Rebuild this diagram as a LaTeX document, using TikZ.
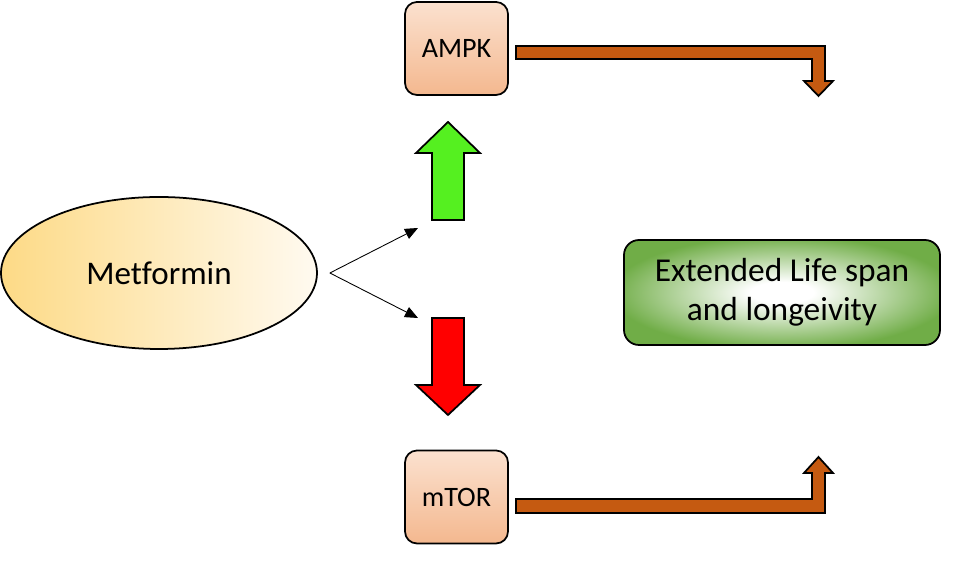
\documentclass[tikz,border=0pt]{standalone}
\usepackage{fontspec}
\setmainfont{Carlito}[Ligatures=NoCommon]
\usetikzlibrary{arrows.meta,positioning,shapes.geometric}
\definecolor{metL}{HTML}{FDDA86}
\definecolor{metR}{HTML}{FFFAF0}
\definecolor{boxT}{HTML}{FBE1CF}
\definecolor{boxB}{HTML}{F4B88F}
\definecolor{lifeG}{HTML}{70AD47}
\definecolor{upG}{HTML}{55F020}
\definecolor{bendO}{HTML}{C55A11}
\pgfdeclareradialshading{lifeshade}{\pgfpoint{0bp}{0bp}}{color(0bp)=(white); color(5bp)=(white);
  color(27bp)=(lifeG); color(50bp)=(lifeG)}
\tikzset{
  protein/.style={draw,line width=1pt,rounded corners=0.24cm,minimum width=2.06cm,minimum height=1.86cm,
    top color=boxT,bottom color=boxB,font=\fontsize{16}{19}\selectfont},
  life/.style={draw,line width=1pt,rounded corners=0.3cm,minimum width=6.32cm,minimum height=2.1cm,
    shading=lifeshade,align=center,font=\fontsize{19}{22.5}\selectfont},
  blockarrow/.style={draw,line width=1pt,line join=miter},
}
\begin{document}
\begin{tikzpicture}[line join=round,>={Triangle[length=2.6mm,width=2.2mm]}]
	\useasboundingbox (0,0) rectangle (19.3,11.26);
	% drug, targets and outcome
	\node[ellipse,draw,line width=1pt,minimum width=6.32cm,minimum height=3.04cm,left color=metL,right color=metR,
	  font=\fontsize{18.8}{22}\selectfont] (met) at (3.18,5.80) {Metformin};
	\node[protein] (ampk) at (9.13,10.29) {AMPK};
	\node[protein] (mtor) at (9.13,1.32) {mTOR};
	\node[life] (life) at (15.64,5.41) {Extended Life span\\and longeivity};
	% thin arrows out of metformin
	\coordinate[right=0.24cm of met.east] (fork);
	\coordinate (upend) at (8.36,6.70);
	\coordinate (downend) at (8.36,4.90);
	\draw[->,line width=0.5pt] (fork) -- (upend);
	\draw[->,line width=0.5pt] (fork) -- (downend);
	% up and down block arrows
	\filldraw[blockarrow,fill=upG] (8.64,6.86) -- (8.64,8.20) -- (8.32,8.20) -- (8.96,8.82) -- (9.60,8.20) -- (9.28,8.20) -- (9.28,6.86) -- cycle;
	\filldraw[blockarrow,fill=red] (8.64,4.90) -- (8.64,3.56) -- (8.32,3.56) -- (8.96,2.96) -- (9.60,3.56) -- (9.28,3.56) -- (9.28,4.90) -- cycle;
	% bent arrows towards the outcome
	\filldraw[blockarrow,fill=bendO] (10.32,10.34) -- (16.50,10.34) -- (16.50,9.64) -- (16.66,9.64) -- (16.37,9.34) -- (16.08,9.64) -- (16.24,9.64) -- (16.24,10.08) -- (10.32,10.08) -- cycle;
	\filldraw[blockarrow,fill=bendO] (10.32,1.00) -- (16.50,1.00) -- (16.50,1.80) -- (16.66,1.80) -- (16.37,2.12) -- (16.08,1.80) -- (16.24,1.80) -- (16.24,1.28) -- (10.32,1.28) -- cycle;
\end{tikzpicture}
\end{document}
